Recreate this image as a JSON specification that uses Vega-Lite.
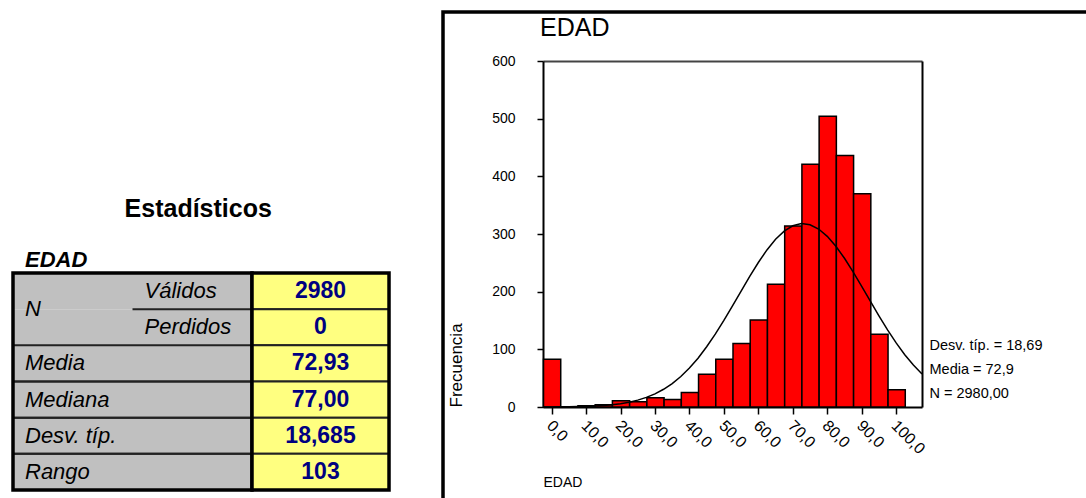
{
  "$schema": "https://vega.github.io/schema/vega-lite/v6.json",
  "padding": {"left": 11, "top": 10, "right": 0, "bottom": 0},
  "background": "white",
  "bounds": "flush",
  "spacing": 0,
  "config": {"font": "Liberation Sans", "view": {"stroke": null}},
  "datasets": {
    "tabla": [
      {"fila": "Válidos", "grupo": "N", "columna": "nivel2", "etiqueta": "Válidos", "valor": "2980"},
      {"fila": "Perdidos", "grupo": "N", "columna": "nivel2", "etiqueta": "Perdidos", "valor": "0"},
      {"fila": "Media", "grupo": "Media", "columna": "nivel1", "etiqueta": "Media", "valor": "72,93"},
      {"fila": "Mediana", "grupo": "Mediana", "columna": "nivel1", "etiqueta": "Mediana", "valor": "77,00"},
      {"fila": "Desv. típ.", "grupo": "Desv. típ.", "columna": "nivel1", "etiqueta": "Desv. típ.", "valor": "18,685"},
      {"fila": "Rango", "grupo": "Rango", "columna": "nivel1", "etiqueta": "Rango", "valor": "103"}
    ],
    "encabezados": [
      {"fila": "Estadísticos", "texto": "Estadísticos"},
      {"fila": "EDAD", "texto": "EDAD"}
    ],
    "edad": [
      {"desde": -2.5, "hasta": 2.5, "frecuencia": 83},
      {"desde": 2.5, "hasta": 7.5, "frecuencia": 0},
      {"desde": 7.5, "hasta": 12.5, "frecuencia": 2},
      {"desde": 12.5, "hasta": 17.5, "frecuencia": 4},
      {"desde": 17.5, "hasta": 22.5, "frecuencia": 11},
      {"desde": 22.5, "hasta": 27.5, "frecuencia": 9},
      {"desde": 27.5, "hasta": 32.5, "frecuencia": 16},
      {"desde": 32.5, "hasta": 37.5, "frecuencia": 13},
      {"desde": 37.5, "hasta": 42.5, "frecuencia": 25},
      {"desde": 42.5, "hasta": 47.5, "frecuencia": 57},
      {"desde": 47.5, "hasta": 52.5, "frecuencia": 83},
      {"desde": 52.5, "hasta": 57.5, "frecuencia": 110},
      {"desde": 57.5, "hasta": 62.5, "frecuencia": 151},
      {"desde": 62.5, "hasta": 67.5, "frecuencia": 213},
      {"desde": 67.5, "hasta": 72.5, "frecuencia": 314},
      {"desde": 72.5, "hasta": 77.5, "frecuencia": 421},
      {"desde": 77.5, "hasta": 82.5, "frecuencia": 504},
      {"desde": 82.5, "hasta": 87.5, "frecuencia": 436},
      {"desde": 87.5, "hasta": 92.5, "frecuencia": 370},
      {"desde": 92.5, "hasta": 97.5, "frecuencia": 126},
      {"desde": 97.5, "hasta": 102.5, "frecuencia": 30}
    ],
    "normal": [
      {"edad": -2.5, "normal": 0.09}, {"edad": 0, "normal": 0.16}, {"edad": 2.5, "normal": 0.26},
      {"edad": 5, "normal": 0.43}, {"edad": 7.5, "normal": 0.7}, {"edad": 10, "normal": 1.1},
      {"edad": 12.5, "normal": 1.72}, {"edad": 15, "normal": 2.62}, {"edad": 17.5, "normal": 3.93},
      {"edad": 20, "normal": 5.79}, {"edad": 22.5, "normal": 8.38}, {"edad": 25, "normal": 11.92},
      {"edad": 27.5, "normal": 16.64}, {"edad": 30, "normal": 22.83}, {"edad": 32.5, "normal": 30.75},
      {"edad": 35, "normal": 40.7}, {"edad": 37.5, "normal": 52.9}, {"edad": 40, "normal": 67.5},
      {"edad": 42.5, "normal": 84.7}, {"edad": 45, "normal": 104.4}, {"edad": 47.5, "normal": 126.3},
      {"edad": 50, "normal": 150.1}, {"edad": 52.5, "normal": 175.3}, {"edad": 55, "normal": 201.1},
      {"edad": 57.5, "normal": 226.5}, {"edad": 60, "normal": 250.6}, {"edad": 62.5, "normal": 272.4},
      {"edad": 65, "normal": 290.9}, {"edad": 67.5, "normal": 305.0}, {"edad": 70, "normal": 314.2},
      {"edad": 72.5, "normal": 318.0}, {"edad": 75, "normal": 316.0}, {"edad": 77.5, "normal": 308.6},
      {"edad": 80, "normal": 295.9}, {"edad": 82.5, "normal": 278.7}, {"edad": 85, "normal": 257.9},
      {"edad": 87.5, "normal": 234.4}, {"edad": 90, "normal": 209.3}, {"edad": 92.5, "normal": 183.5},
      {"edad": 95, "normal": 158.1}, {"edad": 97.5, "normal": 133.7}, {"edad": 100, "normal": 111.2},
      {"edad": 102.5, "normal": 90.7}, {"edad": 105, "normal": 72.8}, {"edad": 107.5, "normal": 57.3}
    ],
    "estadisticos": [
      {"texto": "Desv. típ. = 18,69"},
      {"texto": "Media = 72,9"},
      {"texto": "N = 2980,00"}
    ]
  },
  "hconcat": [
    {
      "width": 239,
      "height": 478,
      "data": {"name": "tabla"},
      "layer": [
        {
          "mark": {"type": "rect", "color": "#C0C0C0"},
          "encoding": {
            "y": {"field": "fila", "type": "nominal", "axis": null,
              "scale": {"type": "band", "domain": ["r1", "r2", "r3", "r4", "Estadísticos", "EDAD", "Válidos", "Perdidos", "Media", "Mediana", "Desv. típ.", "Rango"], "paddingInner": 0, "paddingOuter": 0.608, "align": 1}}
          }
        },
        {
          "transform": [{"filter": "datum.grupo != 'N'"}],
          "mark": {"type": "rect", "filled": false, "stroke": "#222222", "strokeWidth": 2},
          "encoding": {
            "y": {"field": "fila", "type": "nominal", "axis": null}
          }
        },
        {
          "transform": [{"filter": "datum.fila == 'Válidos'"}],
          "mark": {"type": "rule", "color": "#222222", "strokeWidth": 2},
          "encoding": {
            "y": {"field": "fila", "type": "nominal", "bandPosition": 1, "axis": null},
            "x": {"datum": "nivel2", "type": "nominal", "bandPosition": 0, "axis": null,
              "scale": {"type": "band", "domain": ["nivel1", "nivel2"], "paddingInner": 0, "paddingOuter": 0}},
            "x2": {"datum": "nivel2", "bandPosition": 1}
          }
        },
        {
          "transform": [{"filter": "datum.fila == 'Válidos'"}],
          "mark": {"type": "rect", "filled": false, "stroke": "black", "strokeWidth": 3.5},
          "encoding": {
            "y": {"datum": "Válidos", "type": "nominal", "bandPosition": 0, "axis": null},
            "y2": {"datum": "Rango", "bandPosition": 1}
          }
        },
        {
          "mark": {"type": "text", "align": "left", "baseline": "middle", "dx": 12, "fontSize": 22, "fontStyle": "italic", "color": "black"},
          "encoding": {
            "x": {"field": "columna", "type": "nominal", "bandPosition": 0, "axis": null},
            "y": {"field": "fila", "type": "nominal", "axis": null},
            "text": {"field": "etiqueta"}
          }
        },
        {
          "transform": [{"filter": "datum.fila == 'Válidos'"}],
          "mark": {"type": "text", "align": "left", "baseline": "middle", "dx": 12, "fontSize": 22, "fontStyle": "italic", "color": "black"},
          "encoding": {
            "x": {"datum": "nivel1", "type": "nominal", "bandPosition": 0, "axis": null},
            "y": {"field": "fila", "type": "nominal", "bandPosition": 1, "axis": null},
            "text": {"field": "grupo"}
          }
        },
        {
          "data": {"name": "encabezados"},
          "transform": [{"filter": "datum.fila == 'Estadísticos'"}],
          "mark": {"type": "text", "align": "center", "baseline": "middle", "fontSize": 25, "fontWeight": "bold", "color": "black"},
          "encoding": {
            "x": {"datum": "nivel2", "type": "nominal", "bandPosition": 0.55, "axis": null},
            "y": {"field": "fila", "type": "nominal", "bandPosition": 0.23, "axis": null},
            "text": {"field": "texto"}
          }
        },
        {
          "data": {"name": "encabezados"},
          "transform": [{"filter": "datum.fila == 'EDAD'"}],
          "mark": {"type": "text", "align": "left", "baseline": "middle", "dx": 12, "fontSize": 22, "fontWeight": "bold", "fontStyle": "italic", "color": "black"},
          "encoding": {
            "x": {"datum": "nivel1", "type": "nominal", "bandPosition": 0, "axis": null},
            "y": {"field": "fila", "type": "nominal", "bandPosition": 0.63, "axis": null},
            "text": {"field": "texto"}
          }
        }
      ]
    },
    {
      "width": 191,
      "height": 478,
      "data": {"name": "tabla"},
      "layer": [
        {
          "mark": {"type": "rect", "color": "#FFFF80", "stroke": "#222222", "strokeWidth": 2},
          "encoding": {
            "x": {"datum": "valor", "type": "nominal", "axis": null,
              "scale": {"type": "band", "domain": ["valor"], "paddingInner": 0, "paddingOuter": 0.197, "align": 0}},
            "y": {"field": "fila", "type": "nominal", "axis": null,
              "scale": {"type": "band", "domain": ["r1", "r2", "r3", "r4", "Estadísticos", "EDAD", "Válidos", "Perdidos", "Media", "Mediana", "Desv. típ.", "Rango"], "paddingInner": 0, "paddingOuter": 0.608, "align": 1}}
          }
        },
        {
          "transform": [{"filter": "datum.fila == 'Válidos'"}],
          "mark": {"type": "rect", "filled": false, "stroke": "black", "strokeWidth": 3.5},
          "encoding": {
            "x": {"datum": "valor", "type": "nominal", "axis": null},
            "y": {"datum": "Válidos", "type": "nominal", "bandPosition": 0, "axis": null},
            "y2": {"datum": "Rango", "bandPosition": 1}
          }
        },
        {
          "mark": {"type": "text", "align": "center", "baseline": "middle", "fontSize": 23, "fontWeight": "bold", "color": "#000080"},
          "encoding": {
            "x": {"datum": "valor", "type": "nominal", "axis": null},
            "y": {"field": "fila", "type": "nominal", "axis": null},
            "text": {"field": "valor"}
          }
        }
      ]
    },
    {
      "width": 660,
      "height": 500,
      "view": {"stroke": "black", "strokeWidth": 3.5},
      "title": {"text": "EDAD", "anchor": "start", "frame": "group", "dx": 97, "dy": 19, "offset": -30, "baseline": "alphabetic", "fontSize": 25, "fontWeight": "normal", "color": "black"},
      "resolve": {"axis": {"x": "independent", "y": "independent"}},
      "layer": [
        {
          "data": {"name": "edad"},
          "mark": {"type": "bar", "color": "#FF0000", "stroke": "black", "strokeWidth": 1.5, "binSpacing": 0},
          "encoding": {
            "x": {"field": "desde", "type": "quantitative", "bin": "binned", "title": "EDAD",
              "scale": {"domain": [-2.5, 107.5], "range": [100, 479], "nice": false, "zero": false},
              "axis": {"orient": "bottom", "offset": -105, "values": [0, 10, 20, 30, 40, 50, 60, 70, 80, 90, 100],
                "labelExpr": "replace(format(datum.value, '.1f'), '.', ',')",
                "labelAngle": 45, "labelAlign": "left", "labelBaseline": "top", "labelFontSize": 16, "labelColor": "black",
                "labelPadding": 3, "labelOffset": 3, "labelFlush": false, "labelOverlap": false, "labelBound": false,
                "tickSize": 7, "tickColor": "black", "tickWidth": 1.5, "domainColor": "black", "domainWidth": 2, "grid": false,
                "titleFontSize": 14, "titleFontWeight": "normal", "titleColor": "black", "titleAnchor": "start", "titlePadding": 19}},
            "x2": {"field": "hasta"},
            "y": {"field": "frecuencia", "type": "quantitative", "title": "Frecuencia",
              "scale": {"domain": [0, 600], "range": [395, 49], "nice": false},
              "axis": {"orient": "left", "offset": -100, "values": [0, 100, 200, 300, 400, 500, 600],
                "labelFontSize": 14, "labelColor": "black", "labelPadding": 22,
                "tickSize": 6, "tickColor": "black", "tickWidth": 1.5, "domainColor": "black", "domainWidth": 2, "grid": false,
                "titleFontSize": 17, "titleFontWeight": "normal", "titleColor": "black", "titleAnchor": "start", "titlePadding": 26}}
          }
        },
        {
          "data": {"name": "normal"},
          "mark": {"type": "line", "color": "black", "strokeWidth": 1.5},
          "encoding": {
            "x": {"field": "edad", "type": "quantitative", "title": "EDAD",
              "axis": {"orient": "top", "offset": -49, "domainColor": "#444444", "domainWidth": 2, "ticks": false, "labels": false, "title": null, "grid": false}},
            "y": {"field": "normal", "type": "quantitative", "title": "Frecuencia",
              "axis": {"orient": "right", "offset": -181, "domainColor": "black", "domainWidth": 2, "ticks": false, "labels": false, "title": null, "grid": false}}
          }
        },
        {
          "data": {"name": "estadisticos"},
          "mark": {"type": "point", "opacity": 0},
          "encoding": {
            "color": {"field": "texto", "type": "nominal",
              "scale": {"domain": ["Desv. típ. = 18,69", "Media = 72,9", "N = 2980,00"], "range": ["black", "black", "black"]},
              "legend": {"orient": "none", "legendX": 902, "legendY": 327, "title": null, "labelFontSize": 14.5, "labelColor": "black",
                "symbolSize": 0, "symbolOpacity": 0, "symbolStrokeWidth": 0, "labelOffset": 0, "rowPadding": 9, "padding": 0, "labelLimit": 300}}
          }
        }
      ]
    }
  ]
}
